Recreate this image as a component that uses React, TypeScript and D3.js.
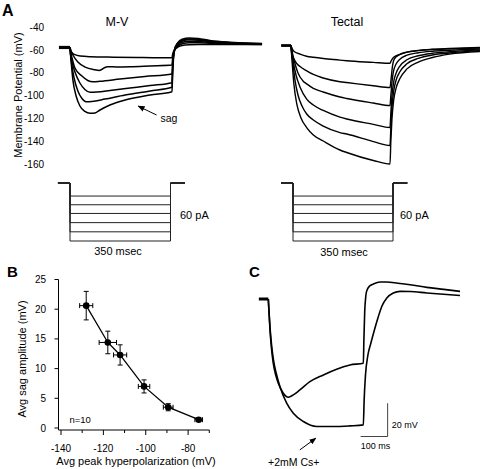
import React from 'react';
import * as d3 from 'd3';

const FONT = '"Liberation Sans", Arial, Helvetica, sans-serif';

type P = [number, number];

// ---------- Panel A : M-V traces (time ms, membrane potential mV) ----------
const mvBaseline: P[] = [[-38, -57.7], [0, -57.7]];
const mvTrace1: P[] = [[0, -57.7], [3, -60.5], [8, -62.5], [17, -64], [35, -65.2], [70, -65.8], [150, -66.2], [250, -66.5], [350, -66.8],
  [352, -64], [355, -61.5], [360, -59.5], [370, -57.5], [385, -56], [410, -55.4], [440, -55.2], [540, -55.2], [659, -55.2]];
const mvTrace2: P[] = [[0, -57.7], [3, -60.5], [10, -64.3], [27, -70.5], [52, -74.9], [86, -77.3], [100, -77.9], [108, -77.2], [118, -75.5], [130, -74.6], [160, -74.8], [206, -74.6], [275, -73.9], [350, -73.1],
  [352, -68], [355, -63], [360, -59.5], [370, -56.5], [385, -54.5], [410, -53.6], [440, -53.6], [480, -54], [540, -54.5], [600, -54.8], [659, -55]];
const mvTrace3: P[] = [[0, -57.7], [2, -62], [7, -67], [17, -75.7], [41, -82.8], [61, -86.7], [79, -87.8], [103, -87.4], [172, -85.4], [257, -83.2], [350, -81],
  [352, -72], [355, -64], [360, -59], [370, -55.5], [385, -53.2], [410, -52.2], [440, -52.5], [480, -53.2], [540, -54], [600, -54.5], [659, -54.7]];
const mvTrace4: P[] = [[0, -57.7], [2, -64], [7, -70.5], [17, -79.2], [34, -88.9], [51, -94.6], [69, -97.1], [93, -96.8], [137, -95.5], [206, -93.3], [275, -91.1], [350, -88.6],
  [352, -76], [355, -65], [360, -58.5], [370, -54.5], [385, -52], [410, -51], [440, -51.4], [480, -52.5], [540, -53.6], [600, -54.2], [659, -54.5]];
const mvTrace5: P[] = [[0, -57.7], [2, -63], [5, -70.5], [14, -84.5], [27, -95.9], [41, -102.5], [55, -105.3], [75, -105.1], [120, -103], [189, -99.4], [275, -95.9], [350, -92.7],
  [352, -79], [355, -66], [360, -58.5], [370, -54], [385, -51.3], [410, -50.2], [440, -50.6], [480, -52], [540, -53.3], [600, -54], [659, -54.4]];
const mvTrace6: P[] = [[0, -57.7], [1.5, -63], [3.4, -68.7], [10, -86.3], [21, -100.3], [34, -109.1], [51, -113.9], [69, -115.5], [86, -115.2], [103, -112.6], [137, -108.2], [189, -103.8], [275, -99.4], [350, -96.5],
  [352, -82], [355, -68], [360, -59], [370, -53.5], [385, -50.5], [410, -49.3], [440, -49.8], [480, -51.5], [540, -53], [600, -53.8], [659, -54.3]];
const mvTraces = [mvTrace1, mvTrace2, mvTrace3, mvTrace4, mvTrace5, mvTrace6];

// ---------- Panel A : Tectal traces ----------
const tectalBaseline: P[] = [[-35, -56], [0, -56]];
const tecTrace1: P[] = [[0, -56], [3.5, -58.5], [10, -61], [32, -63.5], [55, -65.4], [79, -66.3], [114, -67.4], [173, -68.8], [197, -69.4], [291, -70.8], [350, -71.6],
  [354, -69.5], [362, -66.5], [385, -63.8], [410, -61.8], [450, -60.3], [500, -59.3], [560, -58.6], [668, -57.6]];
const tecTrace2: P[] = [[0, -56], [3.5, -60], [7, -65.2], [14, -69.5], [32, -74.5], [55.5, -78.2], [79, -81.4], [114, -84.5], [173, -87.8], [197, -88.5], [291, -91.3], [350, -92.9],
  [354, -85], [358, -75.5], [365, -68], [380, -64.5], [410, -61.8], [450, -60.5], [500, -59.5], [560, -58.9], [668, -58.2]];
const tecTrace3: P[] = [[0, -56], [2, -60], [10.6, -68.7], [24.7, -80.1], [42.4, -87.1], [55.5, -89.7], [79, -93.6], [114, -96.8], [173, -101.2], [197, -102.5], [291, -106.5], [350, -108.7],
  [353, -100], [357, -88], [362, -79], [372, -72], [385, -68], [410, -64.5], [450, -62.3], [500, -61], [560, -60.2], [668, -59]];
const tecTrace4: P[] = [[0, -56], [1.5, -60], [7, -68.7], [17.7, -81.9], [31.8, -92.4], [55.5, -103], [79, -108.2], [114, -113], [173, -118.8], [197, -120.5], [291, -125.2], [350, -128],
  [353, -115], [357, -100], [363, -88], [372, -80], [385, -74], [410, -68.5], [450, -65], [500, -62.8], [560, -61.5], [668, -59.8]];
const tecTrace5: P[] = [[0, -56], [1.2, -60], [5.3, -68.7], [14.1, -86.3], [24.7, -99.4], [38.9, -109.1], [55.5, -116.1], [79, -121.4], [114, -126.7], [173, -132.4], [197, -133.7], [291, -140.3], [350, -143.8],
  [353, -128], [357, -110], [363, -96], [372, -86], [385, -79], [410, -72], [450, -67.3], [500, -64.3], [560, -62.5], [668, -60.5]];
const tecTrace6: P[] = [[0, -56], [1, -60], [3.5, -68.7], [10.6, -90.7], [21.2, -108.2], [35.3, -119.6], [55.5, -128], [79, -134.6], [114, -139.8], [173, -147.7], [197, -149.9], [291, -156.9], [350, -160],
  [353, -140], [357, -120], [363, -104], [372, -93], [385, -85], [410, -76.5], [450, -70.5], [500, -66.5], [560, -63.5], [668, -61.2]];
const tecTraces = [tecTrace1, tecTrace2, tecTrace3, tecTrace4, tecTrace5, tecTrace6];

const yTicksA = [-40, -60, -80, -100, -120, -140, -160];

// current-step protocol (pA)
const stepLevels = [-13.5, -22.5, -31.5, -41, -50.5, -60];
const stepDuration = 350;

// ---------- Panel B ----------
const peakHyper = [-128.1, -117.9, -112.1, -100.8, -89.4, -75];
const sagAmp = [20.6, 14.4, 12.3, 7.0, 3.5, 1.4];
const peakErr = [3.1, 4.1, 3.1, 2.7, 2.3, 1.8];
const sagErr = [2.4, 1.9, 1.7, 1.1, 0.6, 0.3];
const xTicksB = [-140, -130, -120, -110, -100, -90, -80, -70];
const xLabelsB = [-140, -120, -100, -80];
const yTicksB = [0, 5, 10, 15, 20, 25];

// ---------- Panel C (time ms, mV relative to rest) ----------
const cBaseline: P[] = [[-35, 0], [0, 0]];
const cControl: P[] = [[0, 0], [3, -9], [6.3, -18.6], [12, -30], [18.5, -38.6], [28, -46], [37, -50.6], [55.6, -56.6], [74, -59], [92.6, -57.6], [117, -54.6], [154, -49.6], [204, -45.6], [253, -42.2], [302, -39.6], [352, -38.6],
  [354, -25], [357, -8], [361, 1.5], [364, 4.6], [375, 7.8], [389, 9], [414, 10.2], [438, 10.2], [480, 9.5], [525, 8.6], [587, 7], [650, 5.8], [710, 4.6]];
const cCesium: P[] = [[0, 0], [3, -8.5], [6.5, -17.5], [13, -29], [20, -37.5], [30, -45], [43, -52.6], [68, -62.6], [92.6, -68.6], [130, -73.6], [179, -76.6], [241, -76.6], [302, -76.2], [352, -75.6],
  [355, -60.6], [360, -45.6], [369, -33.6], [380, -26.4], [393, -18.6], [406, -11.4], [421, -4.2], [439, 0.6], [463, 3.6], [488, 4.6], [525, 4.5], [587, 3.6], [710, 2.1]];
const scaleBarTime = 100;
const scaleBarVolt = 20;
const scaleBarOrigin: P = [342, -82.6];

export default function App() {
  // Panel A scales
  const yA = d3.scaleLinear().domain([-160, -40]).range([164, 27.3]);
  const xMV = d3.scaleLinear().domain([0, 350]).range([70, 172]);
  const xTec = d3.scaleLinear().domain([0, 350]).range([291, 390]);
  const xPL = d3.scaleLinear().domain([0, 350]).range([70, 170.5]);
  const xPR = d3.scaleLinear().domain([0, 350]).range([293, 393]);
  const yP = d3.scaleLinear().domain([0, -60]).range([183, 241]);

  const lineMV = d3.line<P>().x(d => xMV(d[0])).y(d => yA(d[1])).curve(d3.curveMonotoneX);
  const lineTec = d3.line<P>().x(d => xTec(d[0])).y(d => yA(d[1])).curve(d3.curveMonotoneX);

  const protoPath = (xs: d3.ScaleLinear<number, number>, lvl: number) =>
    d3.line<P>().x(d => xs(d[0])).y(d => yP(d[1]))([
      [-42, 0], [0, 0], [0, lvl], [stepDuration, lvl], [stepDuration, 0], [400, 0],
    ]);

  // Panel B scales
  const xB = d3.scaleLinear().domain([-140, -70]).range([61, 209.3]);
  const yB = d3.scaleLinear().domain([0, 25]).range([428, 279.5]);
  const lineB = d3.line<number>().x((_, i) => xB(peakHyper[i])).y((d) => yB(d));

  // Panel C scales
  const xC = d3.scaleLinear().domain([0, 100]).range([268.3, 295.3]);
  const yC = d3.scaleLinear().domain([0, -20]).range([299, 332.3]);
  const lineC = d3.line<P>().x(d => xC(d[0])).y(d => yC(d[1])).curve(d3.curveMonotoneX);

  const sbX0 = xC(scaleBarOrigin[0]);
  const sbX1 = xC(scaleBarOrigin[0] + scaleBarTime);
  const sbY0 = yC(scaleBarOrigin[1]);
  const sbY1 = yC(scaleBarOrigin[1] + scaleBarVolt);

  const axisY = 430;
  const axisX = 58.5;

  return (
    <svg width={481} height={469} style={{ position: 'absolute', left: 0, top: 0, background: '#fff' }}
      fontFamily={FONT}>
      <defs>
        <marker id="ah" viewBox="0 0 10 10" refX="9" refY="5" markerWidth="7" markerHeight="7" orient="auto">
          <path d="M0,1 L10,5 L0,9 z" fill="#000" />
        </marker>
      </defs>
      <rect x={0} y={0} width={481} height={469} fill="#fff" />

      {/* ===== Panel A ===== */}
      <text x={2} y={16} fontSize={16} fontWeight="bold">A</text>
      <text x={117} y={26} fontSize={12.5} textAnchor="middle">M-V</text>
      <text x={347} y={26} fontSize={12.5} textAnchor="middle">Tectal</text>

      {yTicksA.map(v => (
        <text key={v} x={44} y={yA(v)} dy="0.35em" fontSize={10} textAnchor="end">{v}</text>
      ))}
      <text transform={`translate(21.5,95) rotate(-90)`} fontSize={11} textAnchor="middle">Membrane Potential (mV)</text>

      <path d={lineMV(mvBaseline) || ''} fill="none" stroke="#000" strokeWidth={3.2} />
      {mvTraces.map((tr, i) => (
        <path key={'mv' + i} d={lineMV(tr) || ''} fill="none" stroke="#000" strokeWidth={1.5} />
      ))}
      <path d={lineTec(tectalBaseline) || ''} fill="none" stroke="#000" strokeWidth={2.8} />
      {tecTraces.map((tr, i) => (
        <path key={'tc' + i} d={lineTec(tr) || ''} fill="none" stroke="#000" strokeWidth={1.4} />
      ))}

      {/* sag arrow */}
      <line x1={xMV(297)} y1={yA(-117)} x2={xMV(234)} y2={yA(-109.2)} stroke="#000" strokeWidth={1} markerEnd="url(#ah)" />
      <text x={160.5} y={122} fontSize={10.5}>sag</text>

      {/* protocols */}
      {stepLevels.map((lvl, i) => (
        <path key={'pl' + i} d={protoPath(xPL, lvl) || ''} fill="none" stroke="#222" strokeWidth={1} />
      ))}
      {stepLevels.map((lvl, i) => (
        <path key={'pr' + i} d={protoPath(xPR, lvl) || ''} fill="none" stroke="#222" strokeWidth={1} />
      ))}
      <text x={180} y={219} fontSize={11}>60 pA</text>
      <text x={118} y={255} fontSize={11} textAnchor="middle">350 msec</text>
      <text x={400} y={219} fontSize={11}>60 pA</text>
      <text x={344} y={256} fontSize={11} textAnchor="middle">350 msec</text>

      {/* ===== Panel B ===== */}
      <text x={7} y={277} fontSize={15} fontWeight="bold">B</text>
      <line x1={axisX} y1={yB(25)} x2={axisX} y2={axisY} stroke="#000" strokeWidth={1} />
      <line x1={axisX} y1={axisY} x2={xB(-70)} y2={axisY} stroke="#000" strokeWidth={1} />
      {yTicksB.map(v => (
        <g key={'yb' + v}>
          <line x1={axisX - 4} x2={axisX} y1={yB(v)} y2={yB(v)} stroke="#000" />
          <text x={46} y={yB(v)} dy="0.35em" fontSize={10} textAnchor="end">{v}</text>
        </g>
      ))}
      {xTicksB.map(v => (
        <line key={'xb' + v} x1={xB(v)} x2={xB(v)} y1={axisY} y2={axisY + (xLabelsB.includes(v) ? 5 : 3)} stroke="#000" />
      ))}
      {xLabelsB.map(v => (
        <text key={'xl' + v} x={xB(v)} y={451.5} fontSize={10} textAnchor="middle">{v}</text>
      ))}
      <text transform={`translate(26,359) rotate(-90)`} fontSize={11} textAnchor="middle">Avg sag amplitude (mV)</text>
      <text x={136} y={465} fontSize={11} textAnchor="middle">Avg peak hyperpolarization (mV)</text>
      <text x={69.5} y={423} fontSize={9.5}>n=10</text>

      <path d={lineB(sagAmp) || ''} fill="none" stroke="#000" strokeWidth={1.3} />
      {sagAmp.map((s, i) => {
        const cx = xB(peakHyper[i]);
        const cy = yB(s);
        const y1 = yB(s + sagErr[i]);
        const y2 = yB(s - sagErr[i]);
        const x1 = xB(peakHyper[i] - peakErr[i]);
        const x2 = xB(peakHyper[i] + peakErr[i]);
        return (
          <g key={'pt' + i} stroke="#000" strokeWidth={1}>
            <line x1={cx} x2={cx} y1={y1} y2={y2} />
            <line x1={cx - 2.5} x2={cx + 2.5} y1={y1} y2={y1} />
            <line x1={cx - 2.5} x2={cx + 2.5} y1={y2} y2={y2} />
            <line x1={x1} x2={x2} y1={cy} y2={cy} />
            <line x1={x1} x2={x1} y1={cy - 2.5} y2={cy + 2.5} />
            <line x1={x2} x2={x2} y1={cy - 2.5} y2={cy + 2.5} />
            <circle cx={cx} cy={cy} r={3.3} fill="#000" stroke="none" />
          </g>
        );
      })}

      {/* ===== Panel C ===== */}
      <text x={249} y={277} fontSize={15} fontWeight="bold">C</text>
      <path d={lineC(cBaseline) || ''} fill="none" stroke="#000" strokeWidth={3} />
      <path d={lineC(cControl) || ''} fill="none" stroke="#000" strokeWidth={1.6} />
      <path d={lineC(cCesium) || ''} fill="none" stroke="#000" strokeWidth={1.6} />

      <path d={`M${sbX0},${sbY0}H${sbX1}V${sbY1}`} fill="none" stroke="#444" strokeWidth={1} />
      <text x={sbX1 + 4} y={428} fontSize={9}>20 mV</text>
      <text x={sbX0} y={448.5} fontSize={9}>100 ms</text>

      <line x1={xC(117)} y1={yC(-90.6)} x2={xC(176)} y2={yC(-83.6)} stroke="#000" strokeWidth={1} markerEnd="url(#ah)" />
      <text x={268} y={466} fontSize={10.5}>+2mM Cs+</text>
    </svg>
  );
}
